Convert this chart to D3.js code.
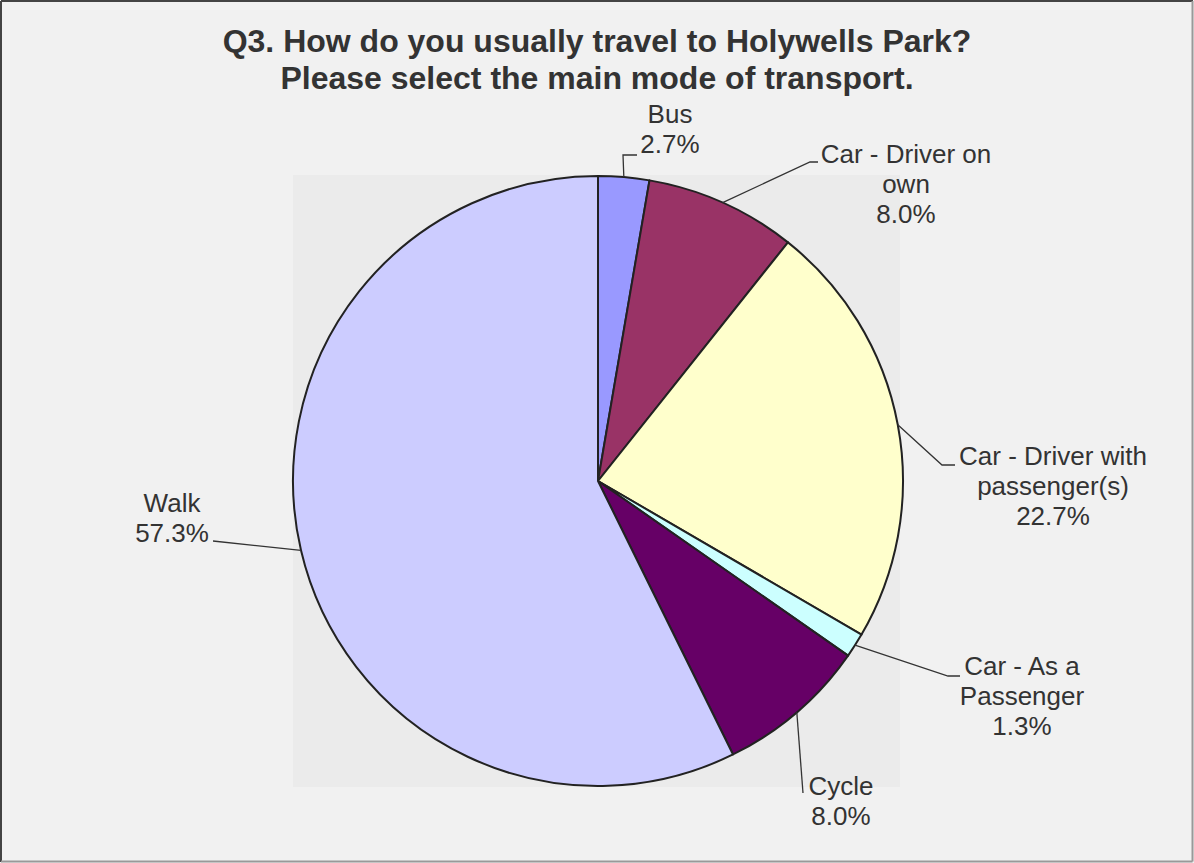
<!DOCTYPE html>
<html>
<head>
<meta charset="utf-8">
<script src="https://cdn.jsdelivr.net/npm/d3@7"></script>
<style>
  html, body { margin: 0; padding: 0; background: #f1f1f1; }
  svg { display: block; }
  text { font-family: "Liberation Sans", Arial, sans-serif; fill: #333; }
</style>
</head>
<body>
<svg id="chart" width="1194" height="863"></svg>
<script>
// Survey answers: main mode of transport to Holywells Park
const categories = [
  "Bus",
  "Car - Driver on own",
  "Car - Driver with passenger(s)",
  "Car - As a Passenger",
  "Cycle",
  "Walk"
];
const percentages = [2.7, 8.0, 22.7, 1.3, 8.0, 57.3];
const sliceColors = ["#9999ff", "#993366", "#ffffcc", "#ccffff", "#660066", "#ccccff"];
const titleLines = [
  "Q3. How do you usually travel to Holywells Park?",
  "Please select the main mode of transport."
];

// Label placement: text block centre, first baseline, and leader-line bends
const labelLayout = [
  { cx: 670,  y: 123, bends: [[623, 155], [637, 155]] },
  { cx: 906,  y: 163, bends: [[810, 162], [818, 162]] },
  { cx: 1053, y: 465, bends: [[942, 465], [955, 465]] },
  { cx: 1022, y: 675, bends: [[948, 676], [960, 676]] },
  { cx: 841,  y: 795, bends: [[803, 793]] },
  { cx: 172,  y: 512, bends: [[213, 541]] }
];

const W = 1194, H = 863;
const cx = 598, cy = 481, R = 305;
const lineH = 30;
const wrapWidth = 200;

const svg = d3.select("#chart");

// Chart and plot area backgrounds
svg.append("rect").attr("x", 0).attr("y", 0).attr("width", W).attr("height", H).attr("fill", "#f1f1f1");
svg.append("rect").attr("x", 293).attr("y", 175).attr("width", 607).attr("height", 612).attr("fill", "#ebebeb");

// Frame: dark top/left, lighter right/bottom
svg.append("line").attr("x1", 1).attr("y1", 1).attr("x2", W - 1).attr("y2", 1).attr("stroke", "#444").attr("stroke-width", 2);
svg.append("line").attr("x1", 1).attr("y1", 1).attr("x2", 1).attr("y2", H - 1).attr("stroke", "#444").attr("stroke-width", 2);
svg.append("line").attr("x1", W - 1.5).attr("y1", 1).attr("x2", W - 1.5).attr("y2", H - 1.5).attr("stroke", "#999").attr("stroke-width", 2);
svg.append("line").attr("x1", 1).attr("y1", H - 1.5).attr("x2", W - 1.5).attr("y2", H - 1.5).attr("stroke", "#999").attr("stroke-width", 2);

// Title
const title = svg.append("text")
  .attr("text-anchor", "middle")
  .style("font-size", "32px")
  .style("font-weight", "bold");
titleLines.forEach((t, i) => {
  title.append("tspan").attr("x", 597).attr("y", 52 + i * 37).text(t);
});

// Pie
const data = categories.map((c, i) => ({ name: c, value: percentages[i], color: sliceColors[i], layout: labelLayout[i] }));
const pie = d3.pie().value(d => d.value).sort(null).startAngle(0).endAngle(2 * Math.PI);
const arc = d3.arc().innerRadius(0).outerRadius(R);
const arcs = pie(data);

const g = svg.append("g").attr("transform", `translate(${cx},${cy})`);
g.selectAll("path.slice")
  .data(arcs)
  .join("path")
  .attr("class", "slice")
  .attr("d", arc)
  .attr("fill", d => d.data.color)
  .attr("stroke", "#222")
  .attr("stroke-width", 2)
  .attr("stroke-linejoin", "round");

// Leader lines from slice edge midpoint through the bends
arcs.forEach(a => {
  const mid = (a.startAngle + a.endAngle) / 2;
  const start = [cx + R * Math.sin(mid), cy - R * Math.cos(mid)];
  const pts = [start, ...a.data.layout.bends];
  svg.append("path")
    .attr("d", d3.line()(pts))
    .attr("fill", "none")
    .attr("stroke", "#333")
    .attr("stroke-width", 1.3);
});

// Labels: wrapped category name followed by the percentage
const fmt = d3.format(".1f");
arcs.forEach(a => {
  const L = a.data.layout;
  const t = svg.append("text")
    .attr("text-anchor", "middle")
    .style("font-size", "26px");
  // word wrap
  const words = a.data.name.split(" ");
  const lines = [];
  let cur = "";
  const probe = svg.append("text").style("font-size", "26px");
  words.forEach(w => {
    const trial = cur ? cur + " " + w : w;
    probe.text(trial);
    if (cur && probe.node().getComputedTextLength() > wrapWidth) {
      lines.push(cur);
      cur = w;
    } else {
      cur = trial;
    }
  });
  lines.push(cur);
  probe.remove();
  lines.push(fmt(a.data.value) + "%");
  lines.forEach((ln, i) => {
    t.append("tspan").attr("x", L.cx).attr("y", L.y + i * lineH).text(ln);
  });
});
</script>
</body>
</html>
